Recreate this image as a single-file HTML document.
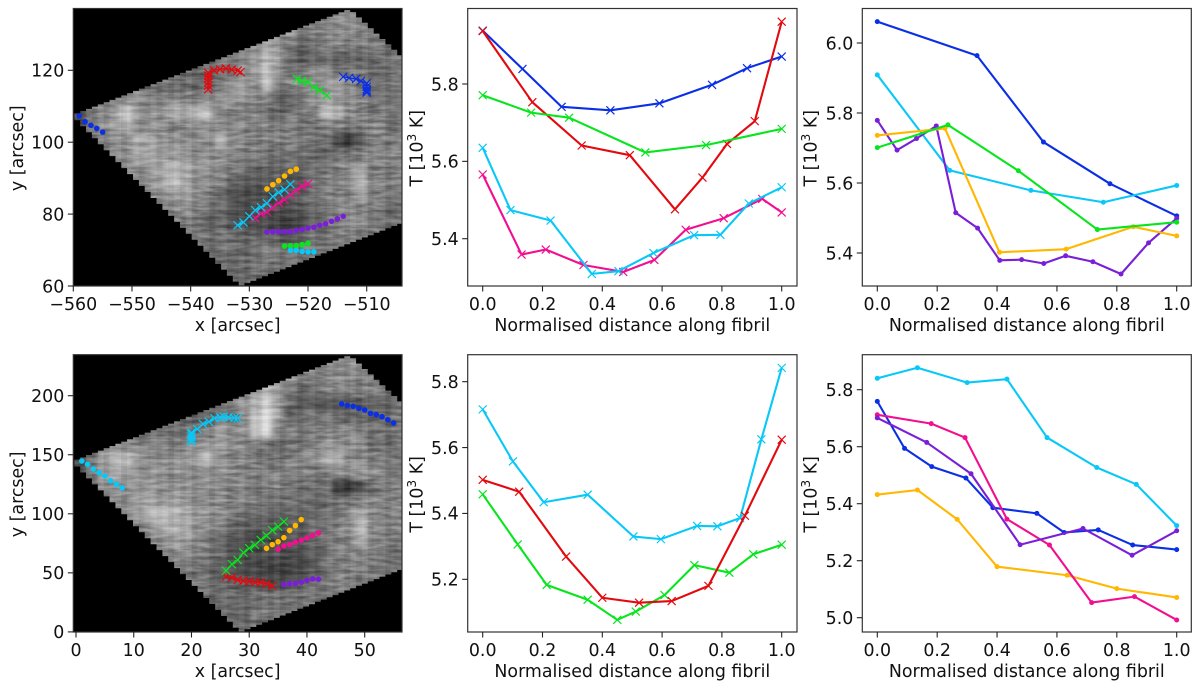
<!DOCTYPE html>
<html lang="en">
<head>
<meta charset="utf-8">
<title>Fibril temperature panels</title>
<style>
html,body{margin:0;padding:0;background:#fff;width:1200px;height:690px;overflow:hidden}
svg{display:block}
text{font-family:"DejaVu Sans","Liberation Sans",sans-serif;font-size:17.4px;fill:#111}
</style>
</head>
<body>
<svg id="fig" xmlns="http://www.w3.org/2000/svg" width="1200" height="690" viewBox="0 0 1200 690">
  <defs>
    <filter id="mapBlur" x="-10%" y="-10%" width="120%" height="120%" color-interpolation-filters="sRGB"><feGaussianBlur stdDeviation="3"/></filter>
    <filter id="mapNoise" x="0" y="0" width="100%" height="100%" color-interpolation-filters="sRGB">
      <feTurbulence type="fractalNoise" baseFrequency="0.06 0.3" numOctaves="2" seed="7"/>
      <feColorMatrix type="matrix" values="1 0 0 0 0  1 0 0 0 0  1 0 0 0 0  0 0 0 0 1"/>
      <feComponentTransfer><feFuncR type="linear" slope="2" intercept="-0.5"/><feFuncG type="linear" slope="2" intercept="-0.5"/><feFuncB type="linear" slope="2" intercept="-0.5"/></feComponentTransfer>
    </filter>
    <clipPath id="clipA"><polygon id="clipPolyA" points="0,0"/></clipPath>
    <clipPath id="clipD"><polygon id="clipPolyD" points="0,0"/></clipPath>
  </defs>
  <g id="panelA"></g>
  <g id="panelB"></g>
  <g id="panelC"></g>
  <g id="panelD"></g>
  <g id="panelE"></g>
  <g id="panelF"></g>
</svg>
<script>
/* ---------- colours ---------- */
const BLUE='#0a2fe4', RED='#e2090f', GREEN='#08e51e', CYAN='#08c8f8', PINK='#f20f8f', ORANGE='#ffb700', PURPLE='#7a1fd8';

/* ---------- tick labels ---------- */
const unitTicks=[0,0.2,0.4,0.6,0.8,1.0];
const mapAXTicks=[-560,-550,-540,-530,-520,-510];
const mapAYTicks=[60,80,100,120];
const mapDXTicks=[0,10,20,30,40,50];
const mapDYTicks=[0,50,100,150,200];
const tempBTicks=[5.4,5.6,5.8];
const tempCTicks=[5.4,5.6,5.8,6.0];
const tempETicks=[5.2,5.4,5.6,5.8];
const tempFTicks=[5.0,5.2,5.4,5.6,5.8];

/* ---------- panel B series ---------- */
const bBlueX=[0,.133,.264,.427,.591,.767,.884,1];
const bBlueY=[5.938,5.839,5.741,5.732,5.75,5.798,5.841,5.871];
const bRedX=[0,.166,.331,.492,.643,.735,.817,.91,1];
const bRedY=[5.937,5.753,5.641,5.616,5.476,5.558,5.645,5.704,5.961];
const bGreenX=[0,.162,.289,.544,.747,1];
const bGreenY=[5.771,5.726,5.713,5.623,5.642,5.684];
const bPinkX=[0,.13,.211,.337,.47,.574,.679,.806,.935,1];
const bPinkY=[5.566,5.359,5.372,5.332,5.314,5.345,5.423,5.453,5.503,5.468];
const bCyanX=[0,.093,.227,.365,.454,.571,.707,.795,.89,1];
const bCyanY=[5.635,5.474,5.447,5.309,5.316,5.363,5.409,5.41,5.491,5.533];

/* ---------- panel C series ---------- */
const cBlueX=[0,.333,.555,.777,1];
const cBlueY=[6.061,5.964,5.717,5.598,5.506];
const cCyanX=[0,.242,.513,.755,1];
const cCyanY=[5.909,5.636,5.579,5.545,5.593];
const cPurpleX=[0,.066,.131,.197,.262,.335,.409,.482,.556,.629,.72,.814,.906,1];
const cPurpleY=[5.779,5.694,5.727,5.763,5.515,5.471,5.379,5.381,5.37,5.392,5.375,5.34,5.429,5.499];
const cOrangeX=[0,.226,.408,.631,.855,1];
const cOrangeY=[5.736,5.756,5.402,5.411,5.475,5.449];
const cGreenX=[0,.236,.471,.735,1];
const cGreenY=[5.701,5.766,5.635,5.467,5.488];

/* ---------- panel E series ---------- */
const eCyanX=[0,.101,.204,.351,.504,.596,.717,.785,.861,.932,1];
const eCyanY=[5.716,5.558,5.434,5.457,5.33,5.322,5.362,5.361,5.386,5.625,5.842];
const eRedX=[0,.122,.279,.4,.523,.632,.755,.877,1];
const eRedY=[5.502,5.466,5.269,5.144,5.129,5.134,5.18,5.393,5.624];
const eGreenX=[0,.117,.214,.351,.45,.512,.608,.708,.825,.905,1];
const eGreenY=[5.458,5.306,5.183,5.138,5.077,5.102,5.152,5.243,5.22,5.276,5.305];

/* ---------- panel F series ---------- */
const fOrangeX=[0,.134,.267,.4,.634,.8,1];
const fOrangeY=[5.432,5.448,5.345,5.179,5.149,5.102,5.071];
const fCyanX=[0,.134,.3,.433,.567,.733,.865,1];
const fCyanY=[5.84,5.877,5.825,5.837,5.632,5.527,5.468,5.323];
const fBlueX=[0,.091,.182,.296,.386,.533,.624,.738,.853,1];
const fBlueY=[5.759,5.594,5.53,5.49,5.386,5.366,5.299,5.308,5.255,5.239];
const fPinkX=[0,.18,.293,.433,.575,.716,.859,1];
const fPinkY=[5.712,5.681,5.632,5.346,5.255,5.053,5.074,4.992];
const fPurpleX=[0,.165,.313,.477,.687,.851,1];
const fPurpleY=[5.701,5.615,5.505,5.256,5.313,5.219,5.305];

/* ---------- map A tracks ---------- */
const aDotBlueX=[-559,-558,-557,-556,-555];
const aDotBlueY=[107.3,105.7,104.7,103.8,102.8];
const aDotOrangeX=[-527,-526,-525,-524,-523,-522];
const aDotOrangeY=[87,88.2,89.3,90.6,91.9,92.5];
const aDotPurpleX=[-527,-526,-525,-524,-523,-522,-521,-520,-519,-518,-517,-516,-515,-514];
const aDotPurpleY=[75,75.1,75.1,75.1,75.1,75.5,75.7,76.1,76.3,76.9,77.3,78,78.7,79.4];
const aDotGreenX=[-524,-523,-522,-521,-520];
const aDotGreenY=[71.1,71.2,71.2,71.5,71.9];
const aDotCyanX=[-523,-522,-521,-520,-519];
const aDotCyanY=[69.9,69.9,69.6,69.5,69.5];
const aCrossRedX=[-537,-537,-537,-537,-537,-537,-536,-535,-534,-533,-532,-531.5];
const aCrossRedY=[114.7,115.7,116.7,117.7,118.5,119.3,120,120.3,120.5,120.2,119.9,119.5];
const aCrossGreenX=[-521.9,-521,-520,-519,-518,-516.8];
const aCrossGreenY=[117.6,117,116.7,115.3,114.4,113];
const aCrossBlueX=[-514,-513,-511.8,-511,-510,-510,-510,-510,-510];
const aCrossBlueY=[118.2,117.9,117.6,117,116.4,115.4,114.7,114.2,113.8];
const aCrossCyanX=[-532,-531,-530,-529,-528,-527,-526,-525,-524,-523];
const aCrossCyanY=[76.9,77.7,79.4,81.1,81.9,83,84.9,86,86.8,88.3];
const aCrossPinkX=[-529,-528,-527,-526,-525,-524,-523,-522,-521,-520];
const aCrossPinkY=[78.9,80.1,80.6,81.9,83.1,84,85.4,86.6,87.7,88.4];

/* ---------- map D tracks ---------- */
const dDotCyanX=[1,2,3,4,5,6,7,8];
const dDotCyanY=[144.7,141.9,137.9,134.8,132,128,125,121.9];
const dDotBlueX=[46,47,48,49,50,51,52,53,54,55];
const dDotBlueY=[193,191.8,191,189.3,187.9,185,183.9,182.2,179.7,176.9];
const dDotOrangeX=[33,34,35,36,37,38,39];
const dDotOrangeY=[70.8,73.9,76.4,79.8,85.8,90,95.1];
const dDotPinkX=[35,36,37,38,39,40,41,42];
const dDotPinkY=[70,72.8,73.9,75.9,77.6,79.5,81.8,83.8];
const dDotPurpleX=[36,37,38,39,40,41,42];
const dDotPurpleY=[40,40.9,40.9,42,43.7,44.9,44.6];
const dCrossCyanX=[20,20,20,20,20,21,22,23,24,25,25.6,26.4,27.4,28];
const dCrossCyanY=[161,162.8,165.3,167.3,168.7,171.8,176,178,180.8,181.7,182.2,181.7,181.1,180.8];
const dCrossGreenX=[26,27,28,29,30,31,32,33,34,35,36];
const dCrossGreenY=[51.9,57.3,60.9,67.1,70.8,73.6,77.9,81.5,86,89.1,93.4];
const dCrossRedX=[26,27,28,29,30,31,32,33,34];
const dCrossRedY=[46.8,46,44,43.2,42.9,42,42,40.6,38.9];

/* ---------- map brightness (hex digit per coarse cell, read by eye) ---------- */
const mapABrightness=[
"7777777777777777777777887777",
"7777777777777777899777887766",
"7777777777777778a86567877766",
"6666666666566789b95455555566",
"6666666665556689c95788676656",
"6666666665566998c77888a86666",
"6677887777788988745689987666",
"3689d988bacc777765677cb87676",
"3689b88877888877777667766876",
"66788aa98888b877777766314777",
"77788aa999888877666655667877",
"7777889aba988765555566789777",
"7777778aca88754444346778b777",
"777777789987543333456777a776",
"7777777778765433333456787765",
"7777777776655433322356787766",
"7777777777766655544566776666",
"7777777777755656766666666666",
"7777777777775556666666666666",
"7777777777777656566666666666"];
const mapDBrightness=[
"7777777777777777777777887777",
"7777777777777777899777887766",
"7777777777777778b96567777766",
"666666666556678bd95444444556",
"666666666555668ce95666655556",
"666666666566a88ce77677787666",
"6788877777899877656678987666",
"369bc98889ac877766788ab88776",
"369aa88888888877777767889876",
"6688899888888777776666213677",
"777889a999888777666655667877",
"777789bcba98876555555668a877",
"7777778aba88754443446678c877",
"777777789987543333445677a876",
"7777777778765433333346777765",
"7777777776654433222346777766",
"7777777777765544334566776666",
"7777777777755656666666666666",
"7777777777775556666666666666",
"7777777777777656566666666666"];
/* horizontal and vertical grain strengths of the raster (signed contrast) */
const rowGrain=[.05,-.06,.09,-.03,.02,-.09,.07,.01,-.05,.1,-.07,.03,-.02,.08,-.1,.04,-.04,.06,-.08,.02,.09,-.05,-.01];
const colGrain=[.03,-.04,.05,-.02,.06,-.05,.01,.04,-.06,.02,.05,-.03,-.01,.06,-.04];

/* ---------- helpers ---------- */
const NS='http://www.w3.org/2000/svg';
function add(parent,tag,attrs){
  const el=document.createElementNS(NS,tag);
  for(const k in attrs){el.setAttribute(k,attrs[k]);}
  parent.appendChild(el);
  return el;
}
const linear=(d0,p0,d1,p1)=>v=>p0+(v-d0)*(p1-p0)/(d1-d0);
const fmt=v=>String(v).replace('-','\u2212');

function drawTicks(g,box,sx,sy,xTicks,yTicks,xDigits,yDigits){
  xTicks.forEach(t=>{
    const px=sx(t);
    const tick=add(g,'line',{x1:px,x2:px,y1:box.bottom,y2:box.bottom+5.5,stroke:'#222','stroke-width':1.1});
    
    
    const label=add(g,'text',{x:px,y:box.bottom+24,'text-anchor':'middle'});
    label.textContent=fmt(xDigits===null?t:t.toFixed(xDigits));
    
    
  });
  yTicks.forEach(t=>{
    const py=sy(t);
    const tick=add(g,'line',{x1:box.left-5.5,x2:box.left,y1:py,y2:py,stroke:'#222','stroke-width':1.1});
    
    
    const label=add(g,'text',{x:box.left-9,y:py+6.3,'text-anchor':'end'});
    label.textContent=fmt(yDigits===null?t:t.toFixed(yDigits));
    
    
  });
}
function drawFrame(g,box){
  const frame=add(g,'rect',{x:box.left,y:box.top,width:box.right-box.left,height:box.bottom-box.top,fill:'none',stroke:'#333','stroke-width':1.2});
  
  
}
function drawXLabel(g,box,text){
  const t=add(g,'text',{x:(box.left+box.right)/2,y:box.bottom+45,'text-anchor':'middle'});
  t.textContent=text;
  
  
}
function drawYLabel(g,box,xBase,text){
  const cy=(box.top+box.bottom)/2+1;
  const t=add(g,'text',{x:xBase,y:cy,'text-anchor':'middle',transform:'rotate(-90 '+xBase+' '+cy+')'});
  
  
  if(text){t.textContent=text;return;}
  const a=add(t,'tspan',{});a.textContent='T [10';
  const b=add(t,'tspan',{dy:-6.5,'font-size':'12.2px'});b.textContent='3';
  const c=add(t,'tspan',{dy:6.5});c.textContent=' K]';
}
function drawLineSeries(g,sx,sy,xs,ys,color,kind,width,name){
  const pts=xs.map((x,i)=>sx(x).toFixed(2)+','+sy(ys[i]).toFixed(2)).join(' ');
  const group=add(g,'g',{});
  
  
  if(kind!=='mapdot'){
    const line=add(group,'polyline',{points:pts,fill:'none',stroke:color,'stroke-width':width,'stroke-linejoin':'round'});
    
    
  }
  xs.forEach((x,i)=>{
    const px=sx(x),py=sy(ys[i]);
    if(kind==='cross'||kind==='mapcross'){
      const r=kind==='cross'?4:4.1;
      const mark=add(group,'path',{d:'M'+(px-r)+' '+(py-r)+'L'+(px+r)+' '+(py+r)+'M'+(px-r)+' '+(py+r)+'L'+(px+r)+' '+(py-r),stroke:color,'stroke-width':1.2,fill:'none'});
      
      
    }else{
      const mark=add(group,'circle',{cx:px,cy:py,r:kind==='mapdot'?2.8:2.5,fill:color});
      
      
    }
  });
}
function drawMapRaster(g,box,grid,clipId,polyId){
  const cols=grid[0].length,rows=grid.length;
  const cw=(box.right-box.left)/cols,ch=(box.bottom-box.top)/rows;
  const bg=add(g,'rect',{x:box.left,y:box.top,width:box.right-box.left,height:box.bottom-box.top,fill:'#000'});
  
  
  /* stepped outline of the raster footprint */
  const off=box.top-8.5, stepX=5.87, stepY=3.6;
  const top=[],bottom=[];
  for(let x=box.left+1;x<box.right;x+=stepX){
    const c=x+stepX/2;
    const t=c<347?115+(c-73)*(10-115)/(347-73):11+(c-352)*(57-11)/50;
    const b=c<240?118+(c-75)*(286-118)/165:286-(c-240)*(63/162);
    top.push([x,Math.max(t,10)+off]);
    bottom.push([x,Math.min(b,286)+off]);
  }
  let poly=[];
  top.forEach(p=>{poly.push([p[0],p[1]]);poly.push([Math.min(p[0]+stepX,box.right),p[1]]);});
  bottom.slice().reverse().forEach(p=>{poly.push([Math.min(p[0]+stepX,box.right),p[1]]);poly.push([p[0],p[1]]);});
  document.getElementById(polyId).setAttribute('points',poly.map(p=>p[0].toFixed(1)+','+p[1].toFixed(1)).join(' '));
  const clipped=add(g,'g',{'clip-path':'url(#'+clipId+')'});
  
  
  const isolate=add(clipped,'g',{style:'isolation:isolate'});
  
  
  const blurred=add(isolate,'g',{filter:'url(#mapBlur)'});
  
  
  for(let j=0;j<rows;j++){
    for(let i=0;i<cols;i++){
      const v=parseInt(grid[j][i],16);
      const gray=Math.round(30+v*14);
      const x0=box.left+i*cw-(i===0?25:0);
      const x1=box.left+(i+1)*cw+(i===cols-1?25:0);
      const y0=box.top+j*ch-(j===0?25:0);
      const y1=box.top+(j+1)*ch+(j===rows-1?25:0);
      const cell=add(blurred,'rect',{x:x0,y:y0,width:x1-x0+.5,height:y1-y0+.5,fill:'rgb('+gray+','+gray+','+gray+')'});
      
      
    }
  }
  const noise=add(isolate,'rect',{x:box.left,y:box.top,width:box.right-box.left,height:box.bottom-box.top,filter:'url(#mapNoise)',style:'mix-blend-mode:overlay',opacity:.22});
  
  
  for(let r=0,y=box.top;y<box.bottom;r++,y+=stepY){
    const s=rowGrain[r%rowGrain.length];
    const band=add(clipped,'rect',{x:box.left,y:y,width:box.right-box.left,height:stepY,fill:s>0?'#fff':'#000',opacity:Math.abs(s)*.7});
    
    
  }
  for(let c=0,x=box.left+1;x<box.right;c++,x+=stepX){
    const s=colGrain[c%colGrain.length];
    const band=add(clipped,'rect',{x:x,y:box.top,width:stepX,height:box.bottom-box.top,fill:s>0?'#fff':'#000',opacity:Math.abs(s)});
    
    
  }
}

/* ---------- panel geometry ---------- */
const boxA={left:73.3,right:402,top:8.5,bottom:286};
const boxB={left:467.7,right:797,top:8.5,bottom:286};
const boxC={left:862.3,right:1191.3,top:8.5,bottom:286};
const boxD={left:73.3,right:402,top:354.7,bottom:632};
const boxE={left:467.7,right:797,top:354.7,bottom:632};
const boxF={left:862.3,right:1191.3,top:354.7,bottom:632};

const sxMidUnit=linear(0,482.7,1,781.7);
const sxRightUnit=linear(0,877.3,1,1176.7);
const syB=linear(5.4,238.7,5.8,84);
const syC=linear(5.4,253,6,43);
const syE=linear(5.2,579.3,5.8,381.7);
const syF=linear(5,617.7,5.8,389.7);
const sxA=linear(-560,73.3,-510,366.7);
const syA=linear(60,286,120,70.3);
const sxD=linear(0,76,50,364.7);
const syD=linear(0,631.9,200,395.7);

const $=id=>document.getElementById(id);
const LW=2.1;

/* panel A */
drawMapRaster($('panelA'),boxA,mapABrightness,'clipA','clipPolyA');
[[aCrossRedX,aCrossRedY,RED,'map-red-track'],[aCrossGreenX,aCrossGreenY,GREEN,'map-green-track'],[aCrossBlueX,aCrossBlueY,BLUE,'map-blue-track'],[aCrossPinkX,aCrossPinkY,PINK,'map-pink-track'],[aCrossCyanX,aCrossCyanY,CYAN,'map-cyan-track']]
  .forEach(s=>drawLineSeries($('panelA'),sxA,syA,s[0],s[1],s[2],'mapcross',1.3,s[3]));
[[aDotBlueX,aDotBlueY,BLUE,'map-blue-dots'],[aDotOrangeX,aDotOrangeY,ORANGE,'map-orange-dots'],[aDotPurpleX,aDotPurpleY,PURPLE,'map-purple-dots'],[aDotGreenX,aDotGreenY,GREEN,'map-green-dots'],[aDotCyanX,aDotCyanY,CYAN,'map-cyan-dots']]
  .forEach(s=>drawLineSeries($('panelA'),sxA,syA,s[0],s[1],s[2],'mapdot',0,s[3]));
drawFrame($('panelA'),boxA);
drawTicks($('panelA'),boxA,sxA,syA,mapAXTicks,mapAYTicks,null,null);
drawXLabel($('panelA'),boxA,'x [arcsec]');
drawYLabel($('panelA'),boxA,23,'y [arcsec]');

/* panel D */
drawMapRaster($('panelD'),boxD,mapDBrightness,'clipD','clipPolyD');
[[dCrossCyanX,dCrossCyanY,CYAN,'map-cyan-track'],[dCrossRedX,dCrossRedY,RED,'map-red-track'],[dCrossGreenX,dCrossGreenY,GREEN,'map-green-track']]
  .forEach(s=>drawLineSeries($('panelD'),sxD,syD,s[0],s[1],s[2],'mapcross',1.3,s[3]));
[[dDotCyanX,dDotCyanY,CYAN,'map-cyan-dots'],[dDotBlueX,dDotBlueY,BLUE,'map-blue-dots'],[dDotOrangeX,dDotOrangeY,ORANGE,'map-orange-dots'],[dDotPinkX,dDotPinkY,PINK,'map-pink-dots'],[dDotPurpleX,dDotPurpleY,PURPLE,'map-purple-dots']]
  .forEach(s=>drawLineSeries($('panelD'),sxD,syD,s[0],s[1],s[2],'mapdot',0,s[3]));
drawFrame($('panelD'),boxD);
drawTicks($('panelD'),boxD,sxD,syD,mapDXTicks,mapDYTicks,null,null);
drawXLabel($('panelD'),boxD,'x [arcsec]');
drawYLabel($('panelD'),boxD,23,'y [arcsec]');

/* panel B */
[[bBlueX,bBlueY,BLUE,'series-blue'],[bRedX,bRedY,RED,'series-red'],[bGreenX,bGreenY,GREEN,'series-green'],[bPinkX,bPinkY,PINK,'series-pink'],[bCyanX,bCyanY,CYAN,'series-cyan']]
  .forEach(s=>drawLineSeries($('panelB'),sxMidUnit,syB,s[0],s[1],s[2],'cross',LW,s[3]));
drawFrame($('panelB'),boxB);
drawTicks($('panelB'),boxB,sxMidUnit,syB,unitTicks,tempBTicks,1,1);
drawXLabel($('panelB'),boxB,'Normalised distance along fibril');
drawYLabel($('panelB'),boxB,422.7);

/* panel C */
[[cBlueX,cBlueY,BLUE,'series-blue'],[cCyanX,cCyanY,CYAN,'series-cyan'],[cPurpleX,cPurpleY,PURPLE,'series-purple'],[cOrangeX,cOrangeY,ORANGE,'series-orange'],[cGreenX,cGreenY,GREEN,'series-green']]
  .forEach(s=>drawLineSeries($('panelC'),sxRightUnit,syC,s[0],s[1],s[2],'dot',LW,s[3]));
drawFrame($('panelC'),boxC);
drawTicks($('panelC'),boxC,sxRightUnit,syC,unitTicks,tempCTicks,1,1);
drawXLabel($('panelC'),boxC,'Normalised distance along fibril');
drawYLabel($('panelC'),boxC,816.7);

/* panel E */
[[eCyanX,eCyanY,CYAN,'series-cyan'],[eGreenX,eGreenY,GREEN,'series-green'],[eRedX,eRedY,RED,'series-red']]
  .forEach(s=>drawLineSeries($('panelE'),sxMidUnit,syE,s[0],s[1],s[2],'cross',LW,s[3]));
drawFrame($('panelE'),boxE);
drawTicks($('panelE'),boxE,sxMidUnit,syE,unitTicks,tempETicks,1,1);
drawXLabel($('panelE'),boxE,'Normalised distance along fibril');
drawYLabel($('panelE'),boxE,422.7);

/* panel F */
[[fOrangeX,fOrangeY,ORANGE,'series-orange'],[fCyanX,fCyanY,CYAN,'series-cyan'],[fBlueX,fBlueY,BLUE,'series-blue'],[fPinkX,fPinkY,PINK,'series-pink'],[fPurpleX,fPurpleY,PURPLE,'series-purple']]
  .forEach(s=>drawLineSeries($('panelF'),sxRightUnit,syF,s[0],s[1],s[2],'dot',LW,s[3]));
drawFrame($('panelF'),boxF);
drawTicks($('panelF'),boxF,sxRightUnit,syF,unitTicks,tempFTicks,1,1);
drawXLabel($('panelF'),boxF,'Normalised distance along fibril');
drawYLabel($('panelF'),boxF,816.7);
</script>
</body>
</html>
